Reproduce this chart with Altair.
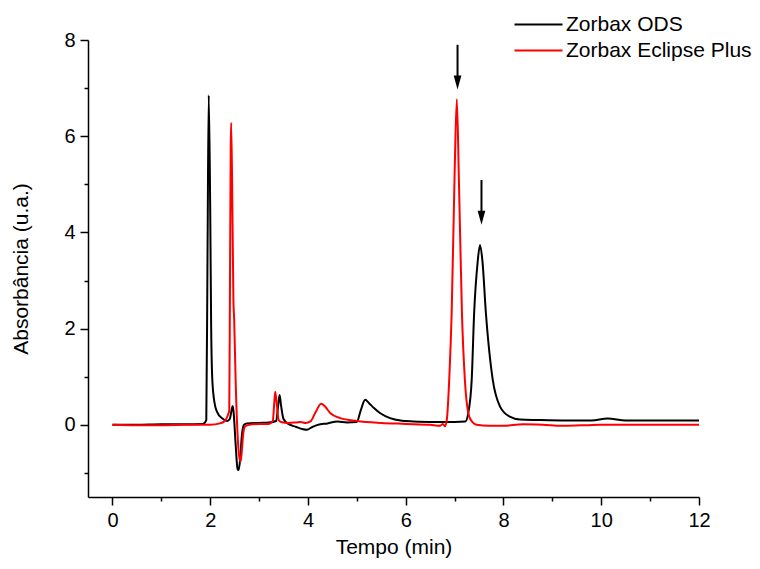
import altair as alt
import pandas as pd

# ---- data ----
ods_t = [0.0, 0.5, 1.0, 1.5, 1.85, 1.92, 1.945, 1.97, 2.0, 2.02, 2.045, 2.09, 2.14, 2.25,
         2.35, 2.40, 2.44, 2.46, 2.48, 2.52, 2.56, 2.58, 2.61, 2.65, 2.69, 2.75, 3.0, 3.2,
         3.35, 3.39, 3.42, 3.45, 3.5, 3.6, 3.75, 3.9, 3.98, 4.08, 4.2, 4.4, 4.6, 4.8, 5.0,
         5.08, 5.17, 5.25, 5.35, 5.48, 5.68, 5.89, 6.0, 6.5, 7.0, 7.22, 7.28, 7.35, 7.40,
         7.47, 7.52, 7.57, 7.64, 7.78, 7.93, 8.13, 8.34, 8.7, 9.3, 9.8, 10.13, 10.5, 11.0,
         11.5, 12.0]
ods_y = [0.0, 0.0, 0.01, 0.01, 0.02, 0.1, 3.5, 6.85, 4.5, 2.0, 0.9, 0.45, 0.27, 0.13,
         0.08, 0.12, 0.32, 0.39, 0.25, -0.4, -0.92, -0.94, -0.75, -0.2, 0.0, 0.03, 0.04, 0.05,
         0.08, 0.4, 0.62, 0.4, 0.12, 0.02, -0.04, -0.09, -0.1, -0.05, 0.0, 0.03, 0.07, 0.05, 0.06,
         0.3, 0.52, 0.45, 0.35, 0.24, 0.14, 0.09, 0.08, 0.06, 0.06, 0.07, 0.25, 0.94, 2.33,
         3.37, 3.74, 3.4, 2.33, 0.94, 0.38, 0.17, 0.11, 0.1, 0.09, 0.09, 0.13, 0.09, 0.09,
         0.09, 0.09]

ecl_t = [0.0, 0.5, 1.0, 1.5, 2.0, 2.2, 2.3, 2.36, 2.39, 2.405, 2.42, 2.43, 2.455, 2.475,
         2.49, 2.52, 2.56, 2.6, 2.625, 2.65, 2.68, 2.72, 2.8, 3.0, 3.2, 3.28, 3.31, 3.33,
         3.36, 3.4, 3.45, 3.6, 3.75, 3.85, 3.95, 4.05, 4.15, 4.27, 4.35, 4.46, 4.66, 5.0,
         5.5, 6.0, 6.5, 6.7, 6.76, 6.8, 6.84, 6.89, 6.94, 7.0, 7.045, 7.09, 7.15, 7.21,
         7.30, 7.38, 7.45, 7.7, 8.0, 8.4, 8.8, 9.2, 9.6, 10.0, 10.5, 11.0, 11.5, 12.0]
ecl_y = [0.0, -0.01, -0.01, 0.0, 0.0, 0.03, 0.08, 0.2, 0.3, 3.0, 5.8, 6.28, 4.4, 2.6,
         2.2, 0.94, -0.2, -0.7, -0.76, -0.5, -0.15, -0.03, 0.0, 0.02, 0.02, 0.08, 0.45, 0.69,
         0.45, 0.1, 0.06, 0.04, 0.05, 0.06, 0.04, 0.07, 0.25, 0.44, 0.38, 0.24, 0.14, 0.08,
         0.04, 0.02, 0.0, -0.02, 0.02, -0.03, 0.1, 0.94, 2.33, 5.2, 6.77, 5.0, 2.33, 0.94,
         0.17, 0.04, 0.0, -0.02, -0.02, 0.01, 0.0, -0.02, -0.01, 0.0, 0.0, 0.0, 0.0, 0.0]

series_names = ["Zorbax ODS", "Zorbax Eclipse Plus"]
series_colors = ["#000000", "#ff0000"]

arrow_t = [7.06, 7.55]
arrow_top = [7.90, 5.09]
arrow_tip = [6.97, 4.16]

x_ticks = list(range(0, 13))
y_ticks = list(range(-1, 9))

FONT = "Liberation Sans"

df = pd.concat([
    pd.DataFrame({"t": ods_t, "a": ods_y, "serie": series_names[0]}),
    pd.DataFrame({"t": ecl_t, "a": ecl_y, "serie": series_names[1]}),
], ignore_index=True)

arrows = pd.DataFrame({"t": arrow_t, "top": arrow_top, "tip": arrow_tip})
arrows["base"] = arrows["tip"] + 0.25

major_minor_size = {"condition": {"test": "datum.value % 2 === 0", "value": 8}, "value": 4}
even_only = "datum.value % 2 === 0 ? datum.label : ''"

x_scale = alt.Scale(domain=[-0.5, 12], nice=False, zero=False)
y_scale = alt.Scale(domain=[-1.5, 8], nice=False, zero=False)

x_axis = alt.Axis(values=x_ticks, labelExpr=even_only, tickSize=major_minor_size,
                  grid=False, labelFlush=False, labelOverlap=False,
                  labelPadding=5, titlePadding=6)
y_axis = alt.Axis(values=y_ticks, labelExpr=even_only, tickSize=major_minor_size,
                  grid=False, labelFlush=False, labelOverlap=False,
                  labelPadding=5, titlePadding=32)

lines = alt.Chart(df).mark_line(strokeWidth=2, interpolate="monotone").encode(
    x=alt.X("t:Q", scale=x_scale, axis=x_axis, title="Tempo (min)"),
    y=alt.Y("a:Q", scale=y_scale, axis=y_axis, title="Absorbância (u.a.)"),
    color=alt.Color(
        "serie:N",
        scale=alt.Scale(domain=series_names, range=series_colors),
        sort=series_names,
        legend=alt.Legend(
            title=None, orient="none", legendX=420, legendY=-26,
            symbolType="M-1,0L11,0", symbolSize=64, symbolStrokeWidth=2,
            labelOffset=37, labelFontSize=21, labelFont=FONT, labelColor="black",
            labelLimit=0, rowPadding=4, padding=0,
        ),
    ),
)

shafts = alt.Chart(arrows).mark_rule(strokeWidth=2, color="black").encode(
    x=alt.X("t:Q", scale=x_scale),
    y=alt.Y("top:Q", scale=y_scale),
    y2="base:Q",
)

heads = alt.Chart(arrows).mark_point(
    shape="M-0.55,-2L0.55,-2L0,0Z", filled=True, color="black", opacity=1, size=196
).encode(
    x=alt.X("t:Q", scale=x_scale),
    y=alt.Y("tip:Q", scale=y_scale),
)

chart = alt.layer(lines, shafts, heads).properties(
    width=611, height=457,
    background="white",
    autosize=alt.AutoSizeParams(type="none"),
    padding={"left": 88, "top": 40, "right": 61, "bottom": 72},
).configure_view(stroke=None).configure_axis(
    domainColor="black", domainWidth=1.5, tickColor="black", tickWidth=1.5,
    labelFont=FONT, labelFontSize=20, labelColor="black",
    titleFont=FONT, titleFontSize=21, titleFontWeight="normal", titleColor="black",
)

chart.save("out.html", embed_options={"renderer": "svg", "actions": False})
